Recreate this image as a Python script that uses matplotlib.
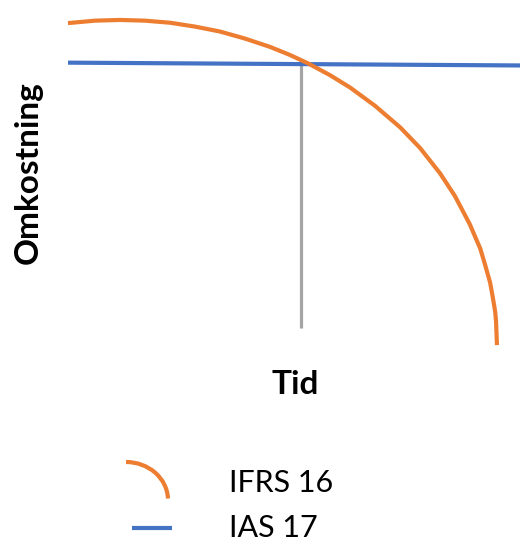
import matplotlib
matplotlib.use("Agg")
import matplotlib.pyplot as plt
from matplotlib.patches import Arc

# data (Tid 0..10, Omkostning 0..10)
tid = [0.0, 0.60, 1.15, 1.70, 2.26, 2.81, 3.36, 3.91, 4.47, 4.91, 5.31, 5.80, 6.24,
       6.79, 7.35, 7.79, 8.23, 8.56, 8.89, 9.12, 9.22, 9.34, 9.40, 9.45, 9.47, 9.49]
ifrs16 = [9.34, 9.41, 9.43, 9.41, 9.35, 9.24, 9.10, 8.90, 8.66, 8.43, 8.19, 7.85, 7.50,
          6.98, 6.36, 5.77, 5.05, 4.40, 3.59, 2.90, 2.47, 1.92, 1.49, 1.10, 0.82, 0.14]
ias17_tid = [0.0, 10.0]
ias17 = [8.21, 8.13]
cross_tid = [5.15, 5.15]
cross_y = [0.63, 8.2]

labels = ["IFRS 16", "IAS 17"]
orange = "#ED7D31"
blue = "#4472C4"
gray = "#A5A5A5"

W, H = 520, 543
fig = plt.figure(figsize=(W / 100, H / 100), dpi=100)
fig.patch.set_facecolor("white")
font = ["Lato", "DejaVu Sans"]

ax = fig.add_axes([68 / W, (H - 350) / H, 452 / W, 350 / H])
ax.set_xlim(0, 10)
ax.set_ylim(0, 10)
ax.axis("off")

ax.plot(cross_tid, cross_y, color=gray, lw=2.3, solid_capstyle="butt", clip_on=False)
ax.plot(ias17_tid, ias17, color=blue, lw=3.0, solid_capstyle="butt", clip_on=False)
ax.plot(tid, ifrs16, color=orange, lw=3.0, solid_capstyle="butt",
        solid_joinstyle="round", clip_on=False)

# axis titles
fig.text(28 / W, 1 - 173 / H, "Omkostning", rotation=90, ha="center", va="center",
         fontsize=24, fontweight="bold", family=font)
fig.text(295 / W, 1 - 385 / H, "Tid", ha="center", va="center",
         fontsize=24, fontweight="bold", family=font)

# legend drawn by hand
leg = fig.add_axes([0, 0, 1, 1])
leg.set_xlim(0, W)
leg.set_ylim(H, 0)
leg.axis("off")
leg.set_zorder(-1)
leg.add_patch(Arc((126, 500), 84, 76, angle=0, theta1=270, theta2=358,
                  color=orange, lw=3.0))
leg.plot([132, 172], [528, 528], color=blue, lw=3.0, solid_capstyle="butt")
leg.text(229, 492, labels[0], ha="left", va="baseline", fontsize=22, family=font)
leg.text(229, 537, labels[1], ha="left", va="baseline", fontsize=22, family=font)

fig.savefig("out.png", dpi=100, facecolor="white")
